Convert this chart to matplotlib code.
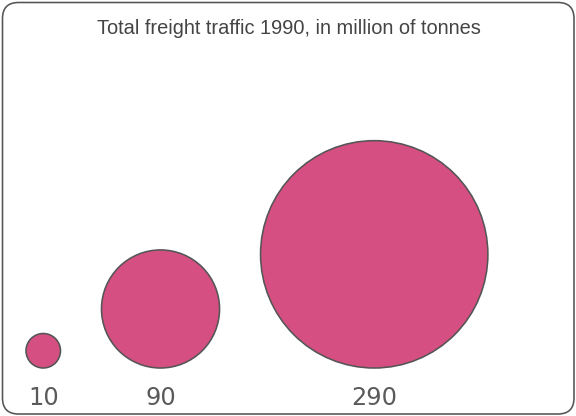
import matplotlib
matplotlib.use("Agg")
import matplotlib.pyplot as plt
from matplotlib.patches import Circle, FancyBboxPatch

# Data
categories = ["10", "90", "290"]
values = [10, 90, 290]
title = "Total freight traffic 1990, in million of tonnes"

W, H = 576, 416
fig = plt.figure(figsize=(W / 72, H / 72), dpi=72)
ax = fig.add_axes([0, 0, 1, 1])
ax.set_xlim(0, W)
ax.set_ylim(H, 0)
ax.set_aspect("equal")
ax.axis("off")

# rounded frame
frame = FancyBboxPatch((2.5, 2.5), W - 4.5, H - 4.5,
                       boxstyle="round,pad=0,rounding_size=16",
                       fc="white", ec="#555555", lw=1.6, zorder=0)
ax.add_patch(frame)

ax.text(W / 2 + 1, 29, title, ha="center", va="center",
        fontsize=20, family="Liberation Sans", color="#444444")

# radius scale (power law fitted to the reference's sizes)
a, p = 4.75, 0.56
radii = [a * v ** p for v in values]

# layout: bottom-aligned circles packed left-to-right
baseline = 368
left = 26
gap = 41
x = left
for cat, v, r in zip(categories, values, radii):
    cx = x + r
    circ = Circle((cx, baseline - r), r, fc="#D64F82", ec="#555555", lw=1.6, zorder=2)
    ax.add_patch(circ)
    ax.text(cx, 398, cat, ha="center", va="center", fontsize=24,
            family="DejaVu Sans", color="#5a5a5a")
    x = cx + r + gap

fig.savefig("out.png", dpi=72)
